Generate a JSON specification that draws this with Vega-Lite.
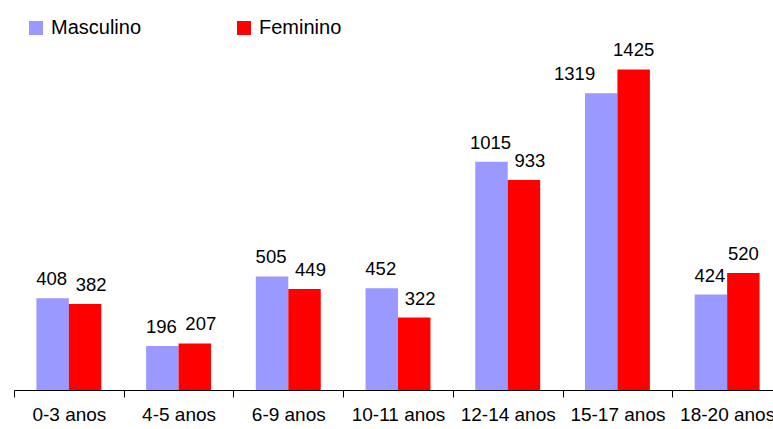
{
  "$schema": "https://vega.github.io/schema/vega-lite/v6.json",
  "autosize": {"type": "none"},
  "padding": {"left": 14, "top": 30, "right": 0, "bottom": 39},
  "width": 768,
  "height": 360,
  "background": "white",
  "config": {"view": {"stroke": null}, "font": "Liberation Sans"},
  "data": {
    "values": [
      {"cat": "0-3 anos", "sexo": "Masculino", "v": 408},
      {"cat": "0-3 anos", "sexo": "Feminino", "v": 382},
      {"cat": "4-5 anos", "sexo": "Masculino", "v": 196},
      {"cat": "4-5 anos", "sexo": "Feminino", "v": 207},
      {"cat": "6-9 anos", "sexo": "Masculino", "v": 505},
      {"cat": "6-9 anos", "sexo": "Feminino", "v": 449},
      {"cat": "10-11 anos", "sexo": "Masculino", "v": 452},
      {"cat": "10-11 anos", "sexo": "Feminino", "v": 322},
      {"cat": "12-14 anos", "sexo": "Masculino", "v": 1015},
      {"cat": "12-14 anos", "sexo": "Feminino", "v": 933},
      {"cat": "15-17 anos", "sexo": "Masculino", "v": 1319},
      {"cat": "15-17 anos", "sexo": "Feminino", "v": 1425},
      {"cat": "18-20 anos", "sexo": "Masculino", "v": 424},
      {"cat": "18-20 anos", "sexo": "Feminino", "v": 520}
    ]
  },
  "encoding": {
    "x": {
      "field": "cat", "type": "nominal", "sort": null,
      "scale": {"paddingInner": 0, "paddingOuter": 0},
      "axis": {
        "title": null, "labelAngle": 0, "tickBand": "extent",
        "domainColor": "#000000", "tickColor": "#000000", "tickSize": 7,
        "labelFontSize": 19, "labelColor": "#000000", "labelPadding": 8,
        "labelFont": "Liberation Sans"
      }
    },
    "xOffset": {
      "field": "sexo", "type": "nominal", "sort": ["Masculino", "Feminino"],
      "scale": {"domain": ["Masculino", "Feminino"], "paddingInner": 0, "paddingOuter": 0.69}
    },
    "y": {
      "field": "v", "type": "quantitative",
      "scale": {"domain": [0, 1600], "nice": false, "zero": true},
      "axis": null
    }
  },
  "layer": [
    {
      "mark": {"type": "bar"},
      "encoding": {
        "color": {
          "field": "sexo", "type": "nominal", "sort": ["Masculino", "Feminino"],
          "scale": {"domain": ["Masculino", "Feminino"], "range": ["#9999FF", "#FF0000"]},
          "legend": {
            "title": null, "orient": "none", "legendX": 12, "legendY": -12,
            "direction": "horizontal", "columns": 2, "columnPadding": 92,
            "symbolType": "square", "symbolSize": 196, "symbolStrokeWidth": 0,
            "labelFontSize": 20, "labelColor": "#000000", "labelOffset": 5,
            "labelFont": "Liberation Sans"
          }
        }
      }
    },
    {
      "transform": [{"filter": "datum.sexo == 'Masculino' && datum.cat != '15-17 anos'"}],
      "mark": {"type": "text", "baseline": "bottom", "dy": -9, "dx": -1, "fontSize": 18.5, "color": "#000000", "font": "Liberation Sans"},
      "encoding": {"text": {"field": "v", "type": "quantitative", "format": "d"}}
    },
    {
      "transform": [{"filter": "datum.sexo == 'Masculino' && datum.cat == '15-17 anos'"}],
      "mark": {"type": "text", "baseline": "bottom", "align": "right", "dy": -9, "dx": -6, "fontSize": 18.5, "color": "#000000", "font": "Liberation Sans"},
      "encoding": {"text": {"field": "v", "type": "quantitative", "format": "d"}}
    },
    {
      "transform": [{"filter": "datum.sexo == 'Feminino' && datum.v < 1400 && datum.v != 520"}],
      "mark": {"type": "text", "baseline": "bottom", "dy": -9, "dx": 6, "fontSize": 18.5, "color": "#000000", "font": "Liberation Sans"},
      "encoding": {"text": {"field": "v", "type": "quantitative", "format": "d"}}
    },
    {
      "transform": [{"filter": "datum.sexo == 'Feminino' && (datum.v >= 1400 || datum.v == 520)"}],
      "mark": {"type": "text", "baseline": "bottom", "dy": -9, "fontSize": 18.5, "color": "#000000", "font": "Liberation Sans"},
      "encoding": {"text": {"field": "v", "type": "quantitative", "format": "d"}}
    }
  ]
}
